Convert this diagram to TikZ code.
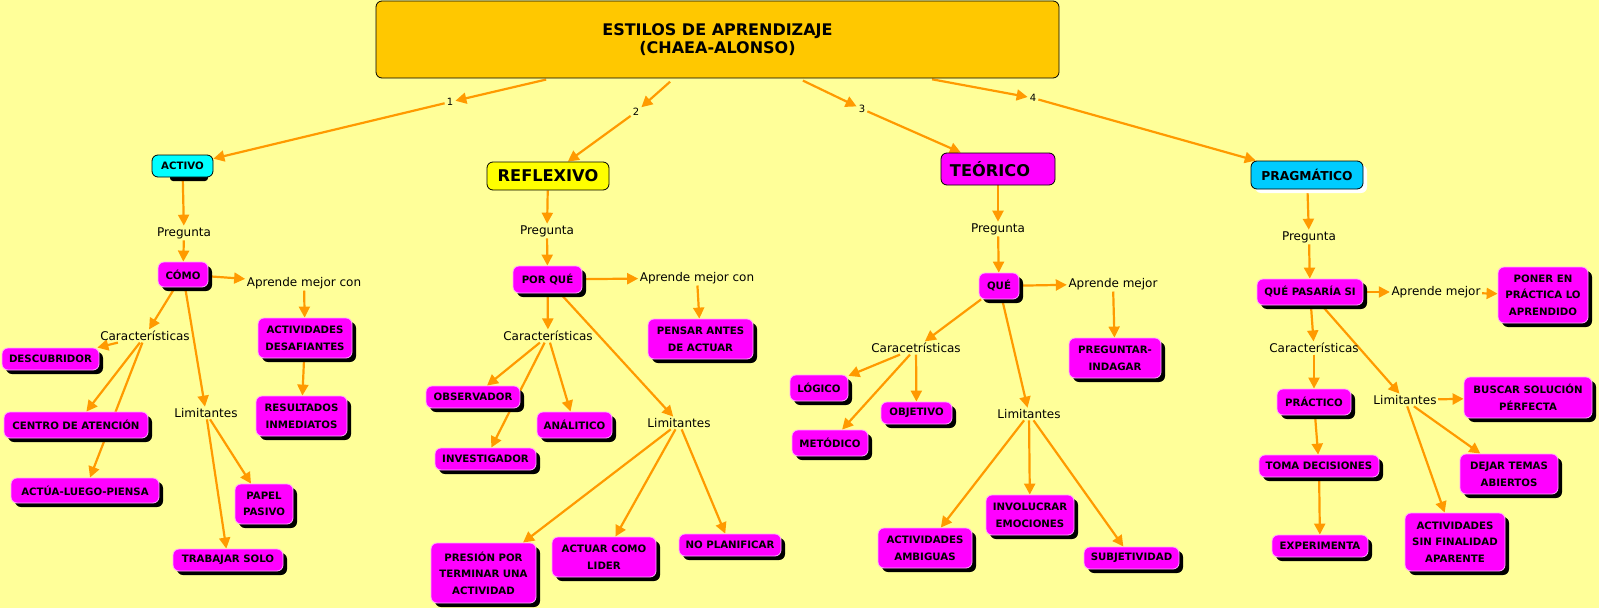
\documentclass[tikz,border=0pt]{standalone}
\usepackage{fontspec}
\setmainfont{DejaVu Sans}
\usetikzlibrary{arrows.meta,shadows}
\definecolor{bgy}{HTML}{FFFF99}
\definecolor{titlec}{HTML}{FFC800}
\definecolor{mag}{HTML}{FF00FF}
\definecolor{magb}{HTML}{FFA8FF}
\definecolor{cyanc}{HTML}{00FFFF}
\definecolor{skyc}{HTML}{00CCFF}
\definecolor{yelc}{HTML}{FFFF00}
\definecolor{arr}{HTML}{FF9A00}
\pgfdeclarelayer{back}
\pgfdeclarelayer{lines}
\pgfsetlayers{back,lines,main}
\newcommand\cnode[7][concept]{\node[#1,minimum width={(#5-#3)*1pt},minimum height={(#6-#4)*1pt}] (#2) at ({(#3+#5)/2},{(#4+#6)/2}) {#7};}
\tikzset{
  concept/.style={rounded corners=6pt, fill=mag, draw=magb, line width=0.8pt,
    font=\fontsize{10.2}{16.6}\selectfont\bfseries, align=center, inner sep=0pt,
    drop shadow={shadow xshift=4pt, shadow yshift=-4pt, opacity=1, fill=black}},
  topc/.style={rounded corners=6pt, draw=black, line width=0.8pt, inner sep=0pt,
    font=\fontsize{10.2}{12}\selectfont\bfseries, align=center},
  lp/.style={font=\fontsize{12}{14}\selectfont, inner sep=1.5pt},
  num/.style={font=\fontsize{10}{11}\selectfont, inner sep=2pt},
  conn/.style={draw=arr, line width=2.2pt, -{Triangle[length=11pt,width=11pt]}},
  mainbox/.style={rounded corners=6pt, fill=titlec, draw=black, line width=0.8pt,
    font=\fontsize{16}{18.5}\selectfont\bfseries, align=center, inner sep=0pt}
}
\begin{document}
\begin{tikzpicture}[x=1pt,y=-1pt]
\begin{pgfonlayer}{back}
\fill[bgy] (0,0) rectangle (1599,608);
\end{pgfonlayer}
\useasboundingbox (0,0) rectangle (1599,608);

% title
\cnode[mainbox]{title}{376}{1}{1059}{78}{ESTILOS DE APRENDIZAJE\\(CHAEA-ALONSO)}
\node[num] (n1) at (450,102) {1};
\node[num] (n2) at (636,112) {2};
\node[num] (n3) at (862,109) {3};
\node[num] (n4) at (1033,98) {4};

% top concepts
\fill[black, rounded corners=3pt] (170,168) rectangle (208,181);
\cnode[topc, fill=cyanc]{activo}{152}{155}{213}{177}{ACTIVO}
\cnode[topc, fill=yelc, font=\fontsize{16.2}{18}\selectfont\bfseries]{reflexivo}{487}{162}{609}{190}{REFLEXIVO}
\cnode[topc, fill=mag, font=\fontsize{16.2}{18}\selectfont\bfseries]{teorico}{941}{153}{1055}{185}{\hspace*{-16pt}TEÓRICO}
\cnode[topc, fill=skyc, font=\fontsize{12.3}{14}\selectfont\bfseries,
  drop shadow={shadow xshift=4pt, shadow yshift=-4pt, opacity=1, fill=white}]{pragmatico}{1251}{161}{1363}{189}{PRAGMÁTICO}

% column 1
\node[lp] (preg1) at (184,233) {Pregunta};
\node[lp] (aprende1) at (304,283) {Aprende mejor con};
\node[lp] (caract1) at (145,336) {Características};
\node[lp] (limit1) at (206,413) {Limitantes};
\cnode{como}{158}{262}{208}{287}{CÓMO}
\cnode{actdes}{258}{318}{352}{358}{ACTIVIDADES\\DESAFIANTES}
\cnode{resinm}{256}{396}{347}{436}{RESULTADOS\\INMEDIATOS}
\cnode{descub}{2}{348}{99}{370}{DESCUBRIDOR}
\cnode{centro}{4}{412}{148}{438}{CENTRO DE ATENCIÓN}
\cnode{actua}{11}{478}{159}{503}{ACTÚA-LUEGO-PIENSA}
\cnode{papel}{235}{484}{293}{524}{PAPEL\\PASIVO}
\cnode{trabajar}{173}{549}{283}{571}{TRABAJAR SOLO}

% column 2
\node[lp] (preg2) at (547,231) {Pregunta};
\node[lp] (aprende2) at (697,278) {Aprende mejor con};
\node[lp] (caract2) at (548,336) {Características};
\node[lp] (limit2) at (679,423) {Limitantes};
\cnode{porque}{513}{266}{582}{293}{POR QUÉ}
\cnode{pensar}{648}{319}{753}{359}{PENSAR ANTES\\DE ACTUAR}
\cnode{observ}{426}{386}{520}{408}{OBSERVADOR}
\cnode{analit}{537}{412}{612}{438}{ANÁLITICO}
\cnode{invest}{435}{448}{536}{470}{INVESTIGADOR}
\cnode{presion}{431}{543}{536}{603}{PRESIÓN POR\\TERMINAR UNA\\ACTIVIDAD}
\cnode{actuar}{552}{537}{656}{577}{ACTUAR COMO\\LIDER}
\cnode{noplan}{679}{534}{781}{556}{NO PLANIFICAR}

% column 3
\node[lp] (preg3) at (998,229) {Pregunta};
\node[lp] (aprende3) at (1113,284) {Aprende mejor};
\node[lp] (caract3) at (916,348) {Caracetrísticas};
\node[lp] (limit3) at (1029,414) {Limitantes};
\cnode{que}{979}{273}{1019}{299}{QUÉ}
\cnode{pregind}{1069}{338}{1161}{378}{PREGUNTAR-\\INDAGAR}
\cnode{logico}{790}{375}{848}{401}{LÓGICO}
\cnode{metod}{792}{430}{868}{456}{METÓDICO}
\cnode{objet}{881}{402}{952}{424}{OBJETIVO}
\cnode{actamb}{878}{528}{972}{568}{ACTIVIDADES\\AMBIGUAS}
\cnode{involuc}{986}{495}{1074}{535}{INVOLUCRAR\\EMOCIONES}
\cnode{subj}{1084}{547}{1179}{569}{SUBJETIVIDAD}

% column 4
\node[lp] (preg4) at (1309,237) {Pregunta};
\node[lp] (aprende4) at (1436,292) {Aprende mejor};
\node[lp] (caract4) at (1314,348) {Características};
\node[lp] (limit4) at (1405,400) {Limitantes};
\cnode{qps}{1257}{279}{1363}{305}{QUÉ PASARÍA SI}
\cnode{poner}{1498}{267}{1588}{323}{PONER EN\\PRÁCTICA LO\\APRENDIDO}
\cnode{practico}{1277}{389}{1351}{415}{PRÁCTICO}
\cnode{toma}{1259}{455}{1379}{477}{TOMA DECISIONES}
\cnode{exper}{1272}{535}{1368}{557}{EXPERIMENTA}
\cnode{buscar}{1464}{377}{1592}{418}{BUSCAR SOLUCIÓN\\PÉRFECTA}
\cnode{dejar}{1460}{454}{1558}{494}{DEJAR TEMAS\\ABIERTOS}
\cnode{actsin}{1405}{513}{1505}{571}{ACTIVIDADES\\SIN FINALIDAD\\APARENTE}

\begin{pgfonlayer}{lines}
\draw[conn, shorten <=5pt] (title) -- (n1);
\draw[conn, shorten <=5pt] (title) -- (n2);
\draw[conn, shorten <=5pt] (title) -- (n3);
\draw[conn, shorten <=5pt] (title) -- (n4);
\draw[conn] (n1) -- (activo);
\draw[conn] (n2) -- (reflexivo);
\draw[conn] (n3) -- (teorico);
\draw[conn] (n4) -- (pragmatico);
% col 1
\draw[conn] (activo) -- (preg1);
\draw[conn] (preg1) -- (como);
\draw[conn] (como) -- (aprende1);
\draw[conn] (aprende1) -- (actdes);
\draw[conn] (actdes) -- (resinm);
\draw[conn] (como) -- (caract1);
\draw[conn] (caract1) -- (descub);
\draw[conn] (caract1) -- (centro);
\draw[conn] (caract1) -- (actua);
\draw[conn] (como) -- (limit1);
\draw[conn] (limit1) -- (papel);
\draw[conn] (limit1) -- (trabajar);
% col 2
\draw[conn] (reflexivo) -- (preg2);
\draw[conn] (preg2) -- (porque);
\draw[conn] (porque) -- (aprende2);
\draw[conn] (aprende2) -- (pensar);
\draw[conn] (porque) -- (caract2);
\draw[conn] (caract2) -- (observ);
\draw[conn] (caract2) -- (invest);
\draw[conn] (caract2) -- (analit);
\draw[conn] (porque) -- (limit2);
\draw[conn] (limit2) -- (presion);
\draw[conn] (limit2) -- (actuar);
\draw[conn] (limit2) -- (noplan);
% col 3
\draw[conn] (teorico) -- (preg3);
\draw[conn] (preg3) -- (que);
\draw[conn] (que) -- (aprende3);
\draw[conn] (aprende3) -- (pregind);
\draw[conn] (que) -- (caract3);
\draw[conn] (caract3) -- (logico);
\draw[conn] (caract3) -- (metod);
\draw[conn] (caract3) -- (objet);
\draw[conn] (que) -- (limit3);
\draw[conn] (limit3) -- (actamb);
\draw[conn] (limit3) -- (involuc);
\draw[conn] (limit3) -- (subj);
% col 4
\draw[conn] (pragmatico) -- (preg4);
\draw[conn] (preg4) -- (qps);
\draw[conn] (qps) -- (aprende4);
\draw[conn] (aprende4) -- (poner);
\draw[conn] (qps) -- (caract4);
\draw[conn] (caract4) -- (practico);
\draw[conn] (practico) -- (toma);
\draw[conn] (toma) -- (exper);
\draw[conn] (qps) -- (limit4);
\draw[conn] (limit4) -- (buscar);
\draw[conn] (limit4) -- (dejar);
\draw[conn] (limit4) -- (actsin);
\end{pgfonlayer}
\end{tikzpicture}
\end{document}
